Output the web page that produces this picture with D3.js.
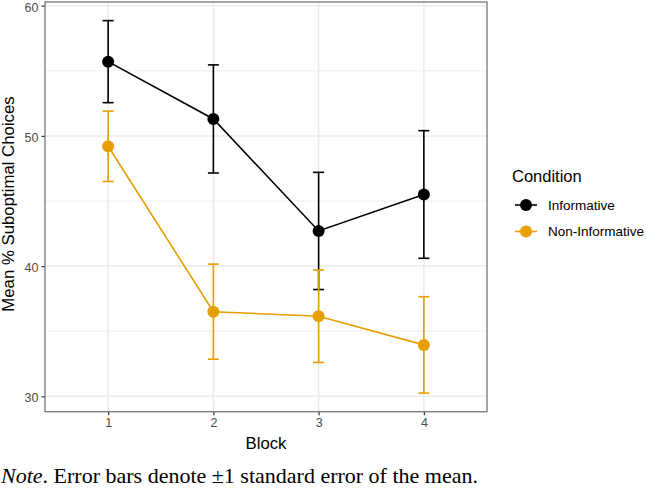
<!DOCTYPE html>
<html>
<head>
<meta charset="utf-8">
<script src="https://cdn.jsdelivr.net/npm/d3@7"></script>
<style>
  body { margin: 0; background: #fff; }
  svg { display: block; }
</style>
</head>
<body>
<script>
// data
const blocks = [1, 2, 3, 4];
const conditions = ["Informative", "Non-Informative"];
const colors = ["#000000", "#E69F00"];
const informativeMean = [55.7, 51.3, 42.7, 45.5];
const informativeSE = [3.15, 4.15, 4.5, 4.9];
const nonInformativeMean = [49.2, 36.5, 36.15, 33.95];
const nonInformativeSE = [2.7, 3.65, 3.55, 3.7];
const yTicks = [30, 40, 50, 60];
const yMinor = [35, 45, 55];

const width = 646, height = 489;
const panel = { left: 45, right: 487, top: 2, bottom: 411.7 };
const sans = "Liberation Sans, Arial, sans-serif";

const series = [
  { name: conditions[0], color: colors[0], mean: informativeMean, se: informativeSE },
  { name: conditions[1], color: colors[1], mean: nonInformativeMean, se: nonInformativeSE }
];

const svg = d3.select("body").append("svg")
  .attr("width", width)
  .attr("height", height);

// ggplot style expansion: discrete 0.6, continuous 5%
const lo = d3.min(series, s => d3.min(s.mean, (m, i) => m - s.se[i]));
const hi = d3.max(series, s => d3.max(s.mean, (m, i) => m + s.se[i]));
const pad = (hi - lo) * 0.05;

const x = d3.scaleLinear().domain([0.4, 4.6]).range([panel.left, panel.right]);
const y = d3.scaleLinear().domain([lo - pad, hi + pad]).range([panel.bottom, panel.top]);

// grid
const grid = svg.append("g");
grid.selectAll(".minor").data(yMinor).enter().append("line")
  .attr("x1", panel.left).attr("x2", panel.right)
  .attr("y1", d => y(d)).attr("y2", d => y(d))
  .attr("stroke", "#EBEBEB").attr("stroke-width", 0.8);
grid.selectAll(".major").data(yTicks).enter().append("line")
  .attr("x1", panel.left).attr("x2", panel.right)
  .attr("y1", d => y(d)).attr("y2", d => y(d))
  .attr("stroke", "#EBEBEB").attr("stroke-width", 1.5);
grid.selectAll(".vmajor").data(blocks).enter().append("line")
  .attr("y1", panel.top).attr("y2", panel.bottom)
  .attr("x1", d => x(d)).attr("x2", d => x(d))
  .attr("stroke", "#EBEBEB").attr("stroke-width", 1.5);

// axes
const xAxis = svg.append("g")
  .attr("transform", `translate(0,${panel.bottom})`)
  .call(d3.axisBottom(x).tickValues(blocks).tickSize(3.5).tickPadding(3).tickFormat(d3.format("d")));
const yAxis = svg.append("g")
  .attr("transform", `translate(${panel.left},0)`)
  .call(d3.axisLeft(y).tickValues(yTicks).tickSize(3.5).tickPadding(3));
[xAxis, yAxis].forEach(a => {
  a.select(".domain").remove();
  a.selectAll(".tick line").attr("stroke", "#333").attr("stroke-width", 1.2);
  a.selectAll(".tick text")
    .attr("fill", "#4D4D4D")
    .style("font-family", sans)
    .style("font-size", "12.5px");
});
yAxis.selectAll(".tick text").attr("dy", "0.45em");

// panel border
svg.append("rect")
  .attr("x", panel.left).attr("y", panel.top)
  .attr("width", panel.right - panel.left).attr("height", panel.bottom - panel.top)
  .attr("fill", "none").attr("stroke", "#777").attr("stroke-width", 1.3);

// series
const line = d3.line().x((d, i) => x(blocks[i])).y(d => y(d));
series.forEach(s => {
  const g = svg.append("g");
  // error bars
  blocks.forEach((b, i) => {
    const top = y(s.mean[i] + s.se[i]), bot = y(s.mean[i] - s.se[i]);
    g.append("line").attr("x1", x(b)).attr("x2", x(b)).attr("y1", top).attr("y2", bot)
      .attr("stroke", s.color).attr("stroke-width", 1.6);
    [top, bot].forEach(v => g.append("line")
      .attr("x1", x(b) - 5.5).attr("x2", x(b) + 5.5).attr("y1", v).attr("y2", v)
      .attr("stroke", s.color).attr("stroke-width", 1.6));
  });
  g.append("path").datum(s.mean).attr("d", line)
    .attr("fill", "none").attr("stroke", s.color).attr("stroke-width", 1.6);
  g.selectAll("circle").data(s.mean).enter().append("circle")
    .attr("cx", (d, i) => x(blocks[i])).attr("cy", d => y(d)).attr("r", 6)
    .attr("fill", s.color);
});

// axis titles
svg.append("text")
  .attr("x", (panel.left + panel.right) / 2).attr("y", 449)
  .attr("text-anchor", "middle")
  .style("font-family", sans).style("font-size", "16.8px")
  .text("Block");
svg.append("text")
  .attr("transform", `translate(14,204) rotate(-90)`)
  .attr("text-anchor", "middle")
  .style("font-family", sans).style("font-size", "16.8px")
  .text("Mean % Suboptimal Choices");

// legend
const legend = svg.append("g").attr("transform", "translate(512,0)");
legend.append("text").attr("x", 0).attr("y", 182)
  .style("font-family", sans).style("font-size", "16.5px")
  .text("Condition");
series.forEach((s, i) => {
  const cy = 205 + i * 26.5;
  legend.append("line").attr("x1", 3).attr("x2", 25).attr("y1", cy).attr("y2", cy)
    .attr("stroke", s.color).attr("stroke-width", 1.6);
  legend.append("circle").attr("cx", 14).attr("cy", cy).attr("r", 6).attr("fill", s.color);
  legend.append("text").attr("x", 36).attr("y", cy + 4.8)
    .style("font-family", sans).style("font-size", "13.5px")
    .text(s.name);
});

// caption
const cap = svg.append("text").attr("x", 1).attr("y", 483)
  .style("font-family", "Liberation Serif, Times New Roman, serif").style("font-size", "22px");
cap.append("tspan").style("font-style", "italic").text("Note");
cap.append("tspan").text(". Error bars denote \u00b11 standard error of the mean.");
</script>
</body>
</html>
